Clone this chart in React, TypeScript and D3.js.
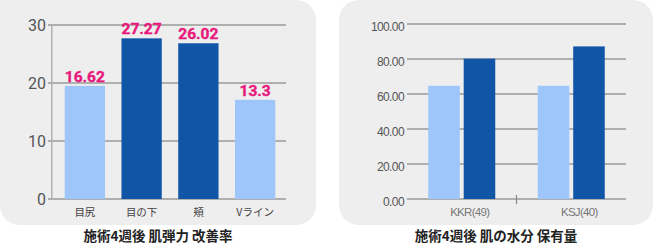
import React from "react";
import * as d3 from "d3";

// Left chart data
const leftCategories = ["目尻", "目の下", "頬", "Vライン"];
const leftBarValues = [19.5, 27.7, 26.85, 17.1];
const leftLabels = ["16.62", "27.27", "26.02", "13.3"];
const leftColors = ["light", "dark", "dark", "light"];
const leftTicks = [0, 10, 20, 30];
const leftTitle = "施術4週後 肌弾力 改善率";

// Right chart data
const rightCategories = ["KKR(49)", "KSJ(40)"];
const rightSeries = ["before", "after"];
const rightBefore = [64.7, 64.7];
const rightAfter = [80.2, 87.2];
const rightTicks = [0, 20, 40, 60, 80, 100];
const rightTitle = "施術4週後 肌の水分 保有量";

const LIGHT = "#9fc6fb";
const DARK = "#1155a7";
const PINK = "#e8197c";
const PANEL = "#eeeeee";

function LeftChart() {
  const y = d3.scaleLinear().domain([0, 30]).range([199, 25]);
  const x = d3
    .scaleBand<string>()
    .domain(leftCategories)
    .range([56.5, 283.5])
    .paddingInner(0.29)
    .paddingOuter(0.145);
  return (
    <g>
      <path d="M0,0 H296 A20,20 0 0 1 316,20 V205 A20,20 0 0 1 296,225 H20 A20,20 0 0 1 0,205 Z" fill={PANEL} />
      {leftTicks.map((t) => (
        <g key={t}>
          <line x1={48} x2={286} y1={y(t)} y2={y(t)} stroke="#9a9a9a" strokeWidth={1.6} />
          <text
            x={46}
            y={y(t)}
            dy="0.36em"
            textAnchor="end"
            fontFamily="Roboto, 'DejaVu Sans Condensed', sans-serif"
            fontSize={16}
            fill="#555"
          >
            {t}
          </text>
        </g>
      ))}
      <line x1={51.8} x2={51.8} y1={y(30)} y2={y(0)} stroke="#b0b0b0" strokeWidth={1.5} />
      {leftCategories.map((c, i) => {
        const x0 = x(c)!;
        const bw = x.bandwidth();
        const top = y(leftBarValues[i]);
        return (
          <g key={c}>
            <rect x={x0} y={top} width={bw} height={y(0) - top} fill={leftColors[i] === "light" ? LIGHT : DARK} />
            <text
              x={x0 + bw / 2}
              y={top - 4}
              textAnchor="middle"
              fontFamily="Roboto, sans-serif"
              fontWeight={700}
              fontSize={15.5}
              fill={PINK}
              stroke={PINK}
              strokeWidth={0.4}
            >
              {leftLabels[i]}
            </text>
            <text
              x={x0 + bw / 2}
              y={216}
              textAnchor="middle"
              fontFamily="'Noto Sans CJK JP', sans-serif"
              fontSize={10.5}
              fill="#444"
            >
              {c}
            </text>
          </g>
        );
      })}
      <text
        x={158}
        y={241}
        textAnchor="middle"
        fontFamily="'Noto Sans CJK JP', sans-serif"
        fontWeight={700}
        fontSize={13.5}
        fill="#222"
      >
        {leftTitle}
      </text>
    </g>
  );
}

function RightChart() {
  const y = d3.scaleLinear().domain([0, 100]).range([199, 24]);
  const x0 = d3
    .scaleBand<string>()
    .domain(rightCategories)
    .range([407, 626])
    .paddingInner(0.388)
    .paddingOuter(0.194);
  const x1 = d3.scaleBand<string>().domain(rightSeries).range([0, x0.bandwidth()]).paddingInner(0.11);
  const fmt = d3.format(".2f");
  return (
    <g>
      <path d="M359,0 H633 A20,20 0 0 1 653,20 V205 A20,20 0 0 1 633,225 H359 A20,20 0 0 1 339,205 V20 A20,20 0 0 1 359,0 Z" fill={PANEL} />
      {rightTicks.map((t) => (
        <g key={t}>
          <line x1={407} x2={626} y1={y(t)} y2={y(t)} stroke="#9a9a9a" strokeWidth={1.6} />
          <text
            x={404}
            y={y(t) + 3}
            dy="0.36em"
            textAnchor="end"
            fontFamily="'Liberation Sans', sans-serif"
            fontSize={12}
            letterSpacing={-0.6}
            fill="#555"
          >
            {fmt(t)}
          </text>
        </g>
      ))}
      <line x1={516.5} x2={516.5} y1={195} y2={204} stroke="#888" strokeWidth={1.2} />
      {rightCategories.map((c, i) => {
        const gx = x0(c)!;
        const vals = [rightBefore[i], rightAfter[i]];
        return (
          <g key={c}>
            {rightSeries.map((s, j) => {
              const top = y(vals[j]);
              return (
                <rect
                  key={s}
                  x={gx + x1(s)!}
                  y={top}
                  width={x1.bandwidth()}
                  height={y(0) - top}
                  fill={j === 0 ? LIGHT : DARK}
                />
              );
            })}
            <text
              x={gx + x0.bandwidth() / 2 + 8}
              y={216}
              textAnchor="middle"
              fontFamily="'Liberation Sans', sans-serif"
              fontSize={11.5}
              letterSpacing={-0.7}
              fill="#777"
            >
              {c}
            </text>
          </g>
        );
      })}
      <text
        x={496}
        y={241}
        textAnchor="middle"
        fontFamily="'Noto Sans CJK JP', sans-serif"
        fontWeight={700}
        fontSize={13.5}
        fill="#222"
      >
        {rightTitle}
      </text>
    </g>
  );
}

export default function App() {
  return (
    <svg
      width={654}
      height={252}
      style={{ position: "absolute", left: 0, top: 0, background: "#fff" }}
    >
      <LeftChart />
      <RightChart />
    </svg>
  );
}
